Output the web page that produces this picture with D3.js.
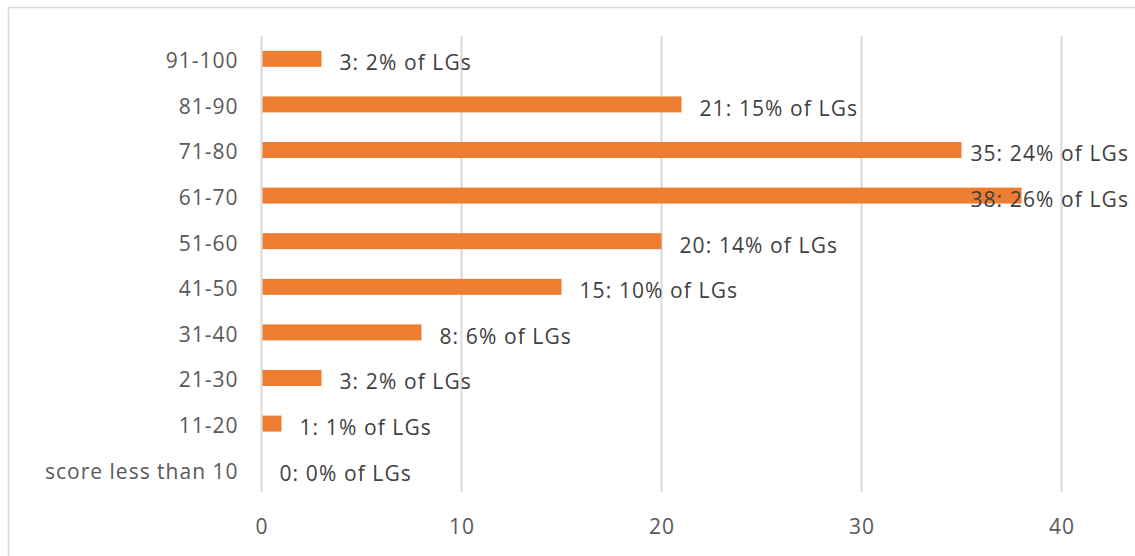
<!DOCTYPE html>
<html><head><meta charset="utf-8">
<script src="https://cdn.jsdelivr.net/npm/d3@7"></script>
<style>
body{margin:0;background:#fff;}
text{font-family:"Open Sans",sans-serif;}
</style></head>
<body><svg id="c" width="1135" height="556"></svg>
<script>
const categories = ["score less than 10","11-20","21-30","31-40","41-50","51-60","61-70","71-80","81-90","91-100"];
const counts = [0,1,3,8,15,20,38,35,21,3];
const percents = [0,1,2,6,10,14,26,24,15,2];
const xTicks = [0,10,20,30,40];

(function(){
const svg = d3.select("#c");
const W = 1135, H = 556;
const pL = 261.5, pR = 1061.5, pT = 36, pB = 492;
const fs = 21;

// outer frame
svg.append("rect").attr("x",8.5).attr("y",7.5).attr("width",W+10).attr("height",H+10)
  .attr("fill","#fff").attr("stroke","#d9d9d9").attr("stroke-width",1.5);

const x = d3.scaleLinear().domain([0,40]).range([pL,pR]);
const y = d3.scaleBand().domain(categories.slice().reverse()).range([pT,pB]).paddingInner(0.65).paddingOuter(0.325);

// gridlines
svg.append("g").selectAll("line").data(xTicks).join("line")
  .attr("x1",d=>x(d)).attr("x2",d=>x(d)).attr("y1",pT).attr("y2",pB)
  .attr("stroke","#d9d9d9").attr("stroke-width",2);

// x axis labels
const xAxis = svg.append("g").attr("transform",`translate(0,${pB})`)
  .call(d3.axisBottom(x).tickValues(xTicks).tickSize(0).tickPadding(27).tickFormat(d3.format("d")));
xAxis.select(".domain").remove();
xAxis.selectAll("text").attr("font-size",fs).attr("fill","#595959").attr("font-family","Open Sans").attr("letter-spacing","1px");

// y axis labels
const yAxis = svg.append("g").attr("transform",`translate(${pL},0)`)
  .call(d3.axisLeft(y).tickSize(0).tickPadding(23));
yAxis.select(".domain").remove();
yAxis.selectAll("text").attr("font-size",fs).attr("fill","#595959").attr("font-family","Open Sans")
  .attr("letter-spacing","1px").attr("dy","0.45em");

// bars
const data = categories.map((c,i)=>({c, v:counts[i], p:percents[i]}));
svg.append("g").selectAll("rect").data(data).join("rect")
  .attr("x",x(0)+1).attr("y",d=>y(d.c)).attr("height",y.bandwidth())
  .attr("width",d=>Math.max(0,x(d.v)-x(0)-1)).attr("fill","#ED7D31");

// data labels
const maxRight = 1129;
const lbl = svg.append("g").selectAll("text").data(data).join("text")
  .attr("font-size",fs).attr("fill","#404040").attr("letter-spacing","1.1px")
  .attr("y",d=>y(d.c)+y.bandwidth()/2+4).attr("dy","0.35em")
  .text(d=>`${d.v}: ${d.p}% of LGs`);
lbl.each(function(d){
  const w = this.getComputedTextLength();
  const px = Math.min(x(d.v)+18, maxRight - w);
  d3.select(this).attr("x",px);
});
})();
</script></body></html>
